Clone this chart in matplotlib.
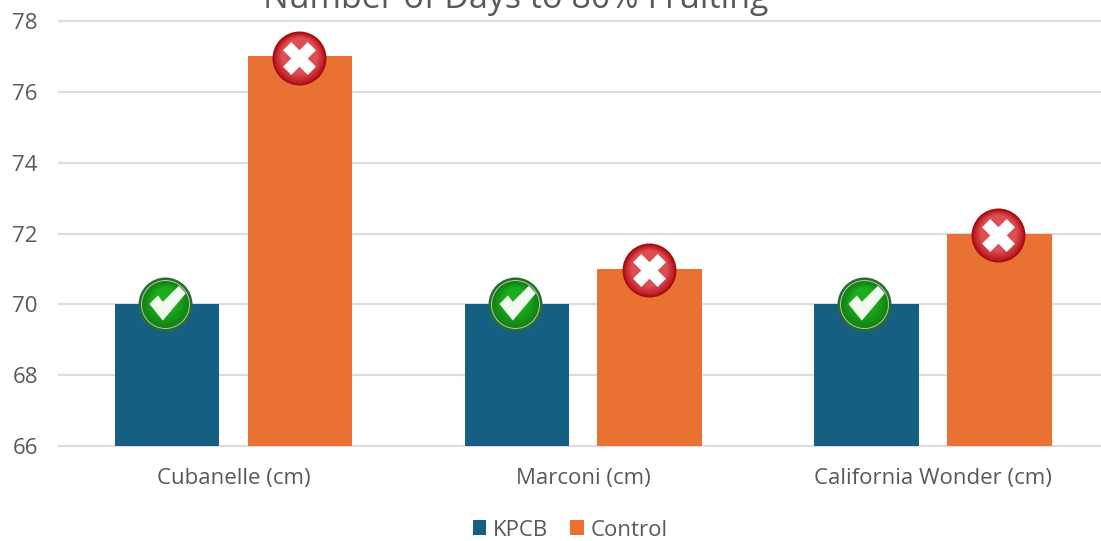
import matplotlib
matplotlib.use("Agg")
import matplotlib.pyplot as plt
import numpy as np
from matplotlib.path import Path
from matplotlib.transforms import ScaledTranslation
from matplotlib.colors import to_rgb

categories = ["Cubanelle (cm)", "Marconi (cm)", "California Wonder (cm)"]
kpcb = [70, 70, 70]
control = [77, 71, 72]
yticks = [66, 68, 70, 72, 74, 76, 78]
title = "Number of Days to 80% Fruiting"

plt.rcParams['font.family'] = ['Open Sans', 'DejaVu Sans']
W, H = 1101, 541
fig = plt.figure(figsize=(W/100, H/100), dpi=100)
ax = fig.add_axes([58.7/W, 1-446/H, (W-58.7)/W, 425/H])
x = np.arange(len(categories))
bw, off = 0.299, 0.19
ax.bar(x-off, kpcb, bw, color="#156082", zorder=2, label="KPCB")
ax.bar(x+off, control, bw, color="#E97132", zorder=2, label="Control")
ax.set_xlim(-0.5, -0.5+(W-58.7)/349.7)
ax.set_ylim(66, 78)
ax.set_yticks(yticks)
ax.set_xticks(x, categories)
ax.grid(axis='y', color="#DDDDDD", lw=1.6, zorder=0, clip_on=False)
ax.set_axisbelow(True)
for g in ax.get_ygridlines():
    g.set_clip_on(False)
for s in ax.spines.values():
    s.set_visible(False)
ax.tick_params(length=0, labelsize=16, labelcolor="#595959")
ax.tick_params(axis='y', pad=15)
ax.tick_params(axis='x', pad=16)

check = Path([(-.60,.02),(-.28,.34),(-.10,.10),(.50,.70),(.76,.42),(-.10,-.60),(-.60,.02)])
R = 27
px = 0.72

def tr(dx, dy):
    return ax.transData + ScaledTranslation(dx/100, dy/100, fig.dpi_scale_trans)

def disc(xs, ys, col, r, dy=0, z=5):
    ax.scatter(xs, ys, s=(r*px*2)**2, color=col, linewidths=0, zorder=z,
               clip_on=False, transform=tr(0, dy))

def ramp(xs, ys, c0, c1, r0, r1, y0, y1, n=10):
    a, b = np.array(to_rgb(c0)), np.array(to_rgb(c1))
    for i, t in enumerate(np.linspace(0, 1, n)):
        disc(xs, ys, tuple(a+(b-a)*t), r0+(r1-r0)*t, dy=y0+(y1-y0)*t, z=5+i*0.01)

gx = x-off-0.006
disc(gx, kpcb, "#2B6B2E", R)
disc(gx, kpcb, "#A9CBA9", R-2.5, z=5.001)
disc(gx, kpcb, "#128314", R-3.5, z=5.002)
ramp(gx, kpcb, "#128314", "#1CAD1D", R-4, R-15, 0, 5, n=10)
ax.scatter(gx, kpcb, marker=check, s=860, color="#F2FAEF", linewidths=0, zorder=7, clip_on=False)

rx = x+off-0.003
disc(rx, control, "#A50E12", R, dy=-1.5)
ramp(rx, control, "#BE1A20", "#DD4F55", R-2, R-9, -1.5, 1, n=10)
ax.scatter(rx, control, marker='X', s=560, color="white", linewidths=0, zorder=7,
           clip_on=False, transform=tr(0, -1.5))

fig.text(516/W, 1-8.5/H, title, ha='center', va='baseline', fontsize=24.5, color="#595959")
h, l = ax.get_legend_handles_labels()
fig.legend(h, l, loc='center', bbox_to_anchor=(570/W, 1-530/H), ncol=2, frameon=False,
           fontsize=16, labelcolor="#595959", handlelength=0.62, handleheight=0.62,
           handletextpad=0.28, columnspacing=1.0)
fig.savefig("out.png", dpi=100)
